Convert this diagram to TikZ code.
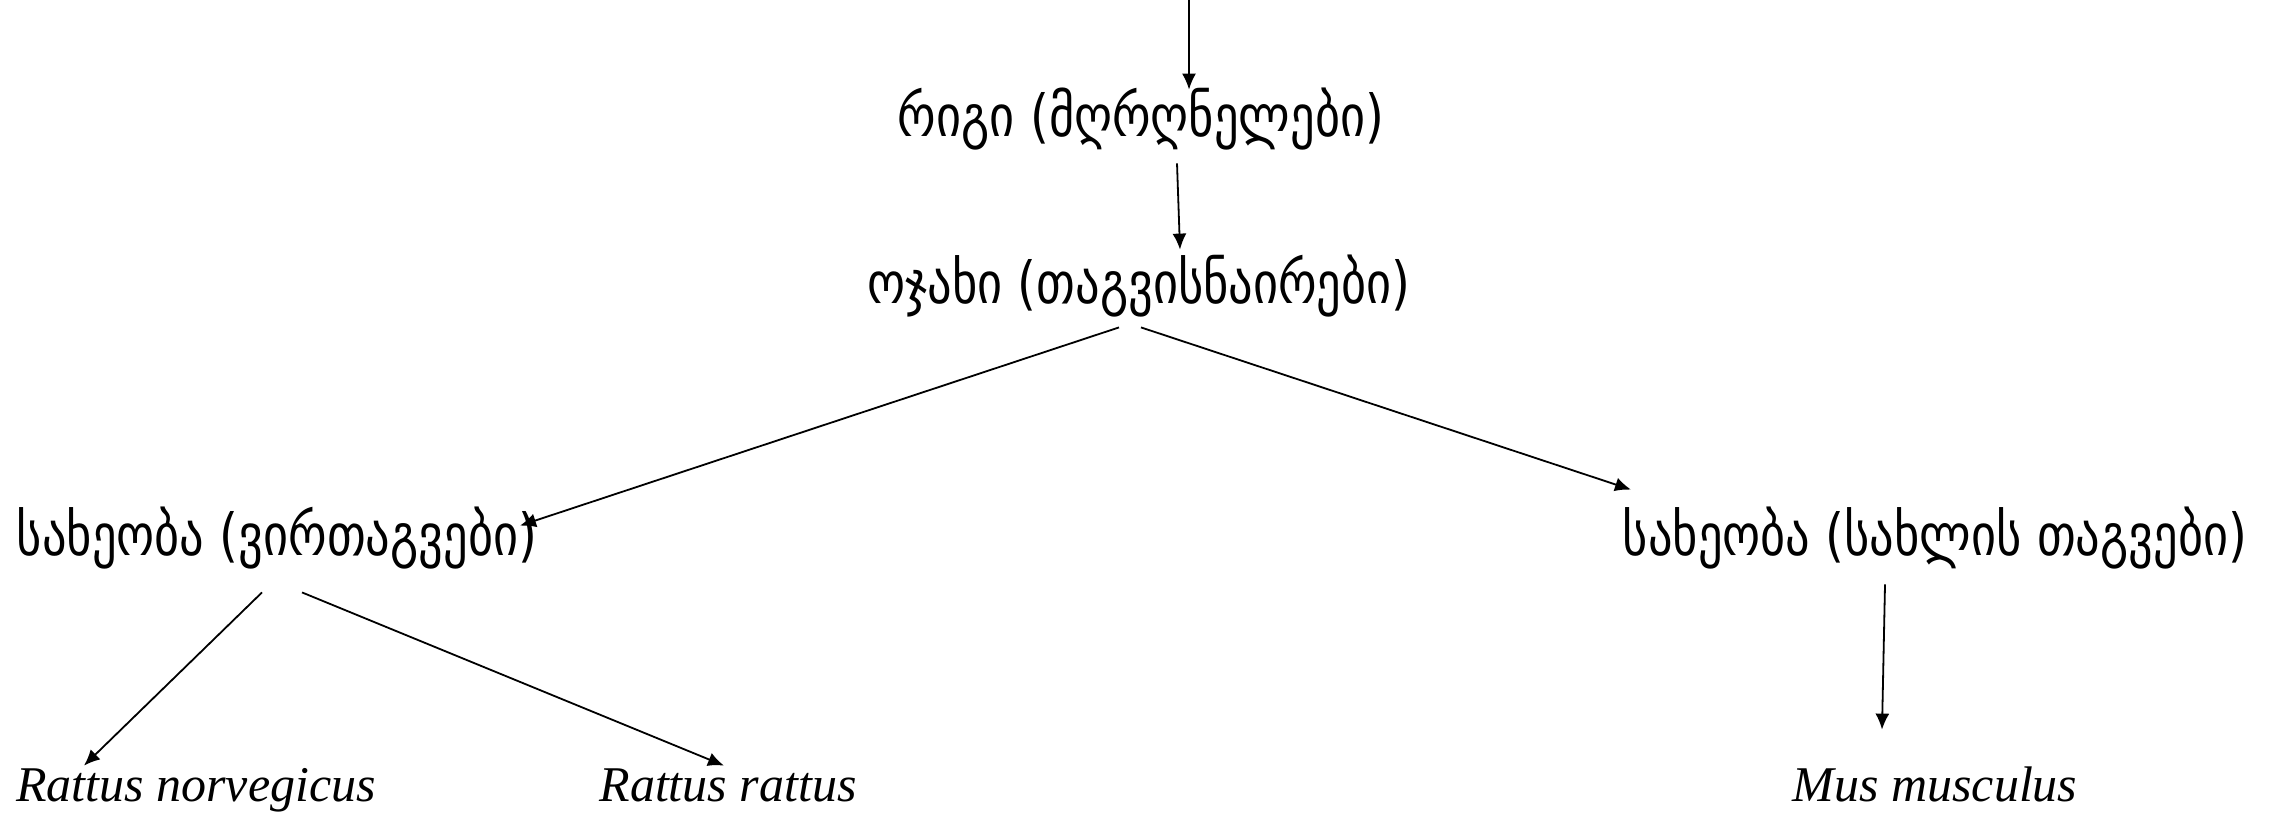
\documentclass[tikz,border=0pt]{standalone}
\usepackage{fontspec}
\usetikzlibrary{arrows.meta}
\newfontfamily\geofont[Script=Georgian,FakeStretch=0.835]{DejaVu Sans}
\newfontfamily\latfont{Liberation Serif}
\begin{document}
\begin{tikzpicture}[x=0.5pt,y=-0.5pt,
  geo/.style={anchor=base,inner sep=0pt,text height=19pt,text depth=7pt,font=\geofont\fontsize{29}{32}\selectfont},
  lat/.style={anchor=base,inner sep=0pt,text height=18pt,text depth=5pt,font=\latfont\itshape\fontsize{25}{28}\selectfont},
  arr/.style={line width=0.9pt,-{Latex[length=8pt,width=7pt]}}]
\useasboundingbox[fill=white] (0,0) rectangle (2279,816);
\node[geo] (n1) at (1141,136) {რიგი (მღრღნელები)};
\node[geo] (n2) at (1139,303) {ოჯახი (თაგვისნაირები)};
\node[geo] (s1) at (277,555) {სახეობა (ვირთაგვები)};
\node[geo] (s2) at (1935,555) {სახეობა (სახლის თაგვები)};
\node[lat] (r1) at (196,801) {Rattus norvegicus};
\node[lat] (r2) at (728,801) {Rattus rattus};
\node[lat] (m) at (1935,801) {Mus musculus};
\coordinate (topin) at (1189,0);
\draw[arr] (topin) -- ([shift={(48,-8)}]n1.north);
\draw[arr] ([shift={(36,13)}]n1.south) -- ([shift={(41,-15)}]n2.north);
\draw[arr] ([shift={(-20,10)}]n2.south) -- ([shift={(243,9)}]s1.north);
\draw[arr] ([shift={(2,10)}]n2.south) -- ([shift={(-304,-27)}]s2.north);
\draw[arr] ([shift={(-15,23)}]s1.south) -- ([shift={(-112,1)}]r1.north);
\draw[arr] ([shift={(25,23)}]s1.south) -- ([shift={(-4,1)}]r2.north);
\draw[arr] ([shift={(-50,15)}]s2.south) -- ([shift={(-53,-35)}]m.north);
\end{tikzpicture}
\end{document}
